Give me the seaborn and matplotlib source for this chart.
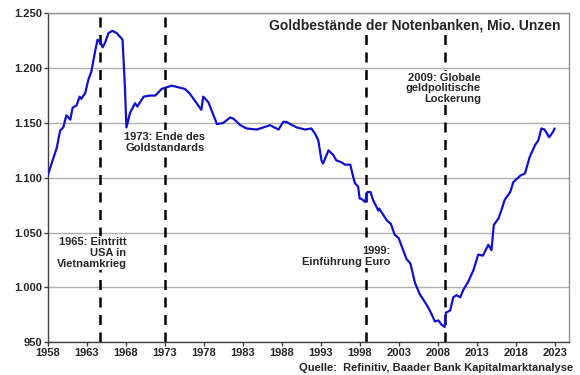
import matplotlib
matplotlib.use("Agg")
import matplotlib.pyplot as plt
import pandas as pd
import seaborn as sns
from matplotlib.ticker import FuncFormatter

# Goldbestände der Notenbanken (Mio. Unzen)
years = [1958.0, 1958.5, 1959.15, 1959.6, 1960.0, 1960.4, 1960.9, 1961.2, 1961.7, 1962.1,
         1962.3, 1962.8, 1963.2, 1963.6, 1964.1, 1964.4, 1964.8, 1965.05, 1965.35, 1965.8,
         1966.3, 1966.85, 1967.6, 1967.9, 1968.1, 1968.55, 1969.2, 1969.5, 1970.3, 1971.1,
         1971.8, 1972.6, 1973.0, 1973.9, 1974.5, 1975.6, 1976.2, 1977.1, 1977.7, 1977.95,
         1978.6, 1979.7, 1980.5, 1981.4, 1981.8, 1982.7, 1983.5, 1984.8, 1986.1, 1986.5,
         1987.6, 1988.2, 1988.6, 1989.1, 1989.9, 1991.0, 1991.8, 1992.3, 1992.7, 1993.1,
         1993.3, 1994.0, 1994.6, 1995.0, 1995.7, 1996.1, 1996.8, 1997.2, 1997.4, 1997.8,
         1998.0, 1998.2, 1998.7, 1999.0, 1999.4, 1999.7, 2000.4, 2000.5, 2001.5, 2002.0,
         2002.5, 2003.0, 2004.0, 2004.5, 2005.1, 2005.7, 2006.6, 2007.0, 2007.65, 2008.1,
         2008.5, 2008.9, 2009.05, 2009.6, 2010.0, 2010.4, 2010.9, 2011.3, 2011.9, 2012.6,
         2013.2, 2013.8, 2014.5, 2014.9, 2015.2, 2015.8, 2016.2, 2016.6, 2017.3, 2017.7,
         2018.6, 2019.2, 2019.8, 2020.5, 2020.9, 2021.3, 2021.7, 2022.3, 2022.8, 2023.0]
gold = [1102, 1113, 1127, 1143, 1146, 1157, 1153, 1164, 1166, 1174,
        1172, 1177, 1189, 1197, 1216, 1226, 1223, 1219, 1223, 1232,
        1234, 1232, 1226, 1183, 1146, 1159, 1168, 1165, 1174, 1175,
        1175, 1181, 1182, 1184, 1183, 1181, 1177, 1168, 1162, 1174,
        1169, 1149, 1150, 1155, 1154, 1148, 1145, 1144, 1147, 1148,
        1144, 1151, 1151, 1149, 1146, 1144, 1145, 1140, 1134, 1116,
        1113, 1125, 1121, 1116, 1114, 1112, 1112, 1100, 1095, 1092,
        1081, 1081, 1078, 1087, 1087, 1080, 1070, 1072, 1061, 1058,
        1048, 1045, 1026, 1022, 1004, 994, 984, 979, 969, 970,
        966, 964, 977, 979, 991, 993, 991, 998, 1005, 1016,
        1030, 1029, 1039, 1034, 1057, 1063, 1071, 1080, 1087, 1096,
        1102, 1104, 1119, 1130, 1134, 1145, 1144, 1137, 1142, 1145]

event_years = [1964.75, 1973.0, 1998.85, 2008.9]
event_labels = ["1965: Eintritt\nUSA in\nVietnamkrieg",
                "1973: Ende des\nGoldstandards",
                "1999:\nEinführung Euro",
                "2009: Globale\ngeldpolitische\nLockerung"]

sns.set_theme(style="white")
plt.rcParams["font.family"] = ["Liberation Sans", "DejaVu Sans"]

df = pd.DataFrame({"Jahr": years, "Gold": gold})

fig = plt.figure(figsize=(5.8, 3.75), dpi=100)
ax = fig.add_axes([0.0822, 0.0872, 0.8983, 0.8773])

ax.yaxis.grid(True, color="#b0b0b0", linewidth=1)
ax.set_axisbelow(True)

for x in event_years:
    ax.axvline(x, color="black", linewidth=1.8, linestyle=(0, (4, 3)), zorder=2)

sns.lineplot(data=df, x="Jahr", y="Gold", ax=ax, color="#1010d0", linewidth=1.6, zorder=3)

box = dict(facecolor="white", edgecolor="none", pad=1)
fs = 8
ax.text(1968.1, 1046, event_labels[0], ha="right", va="top", fontsize=fs,
        fontweight="bold", bbox=box, zorder=4, linespacing=1.1)
ax.text(1973.0, 1142, event_labels[1], ha="center", va="top", fontsize=fs,
        fontweight="bold", bbox=box, zorder=4, linespacing=1.1)
ax.text(2001.9, 1038, event_labels[2], ha="right", va="top", fontsize=fs,
        fontweight="bold", bbox=box, zorder=4, linespacing=1.1)
ax.text(2013.55, 1196, event_labels[3], ha="right", va="top", fontsize=fs,
        fontweight="bold", bbox=box, zorder=4, linespacing=1.1)

ax.text(0.984, 0.985, "Goldbestände der Notenbanken, Mio. Unzen", transform=ax.transAxes,
        ha="right", va="top", fontsize=10, fontweight="bold", zorder=5,
        bbox=dict(facecolor="white", edgecolor="none", pad=2))
fig.text(0.988, 0.005, "Quelle:  Refinitiv, Baader Bank Kapitalmarktanalyse",
         ha="right", va="bottom", fontsize=8, fontweight="bold")

ax.set_xlim(1958, 2024.8)
ax.set_ylim(950, 1250)
ax.set_xticks(list(range(1958, 2024, 5)))
ax.set_yticks(list(range(950, 1251, 50)))
ax.yaxis.set_major_formatter(FuncFormatter(lambda v, p: f"{v:,.0f}".replace(",", ".")))
ax.set_xlabel("")
ax.set_ylabel("")
ax.tick_params(axis="both", labelsize=8, length=3, width=1, direction="out",
               color="#404040", pad=1)
ax.tick_params(axis="x", bottom=True)
ax.tick_params(axis="y", left=True)
for lbl in ax.get_xticklabels() + ax.get_yticklabels():
    lbl.set_fontweight("bold")

for side in ["top", "right"]:
    ax.spines[side].set_color("#909090")
for side in ["left", "bottom"]:
    ax.spines[side].set_color("#404040")
for s in ax.spines.values():
    s.set_linewidth(1)

fig.savefig("out.png", dpi=100)
